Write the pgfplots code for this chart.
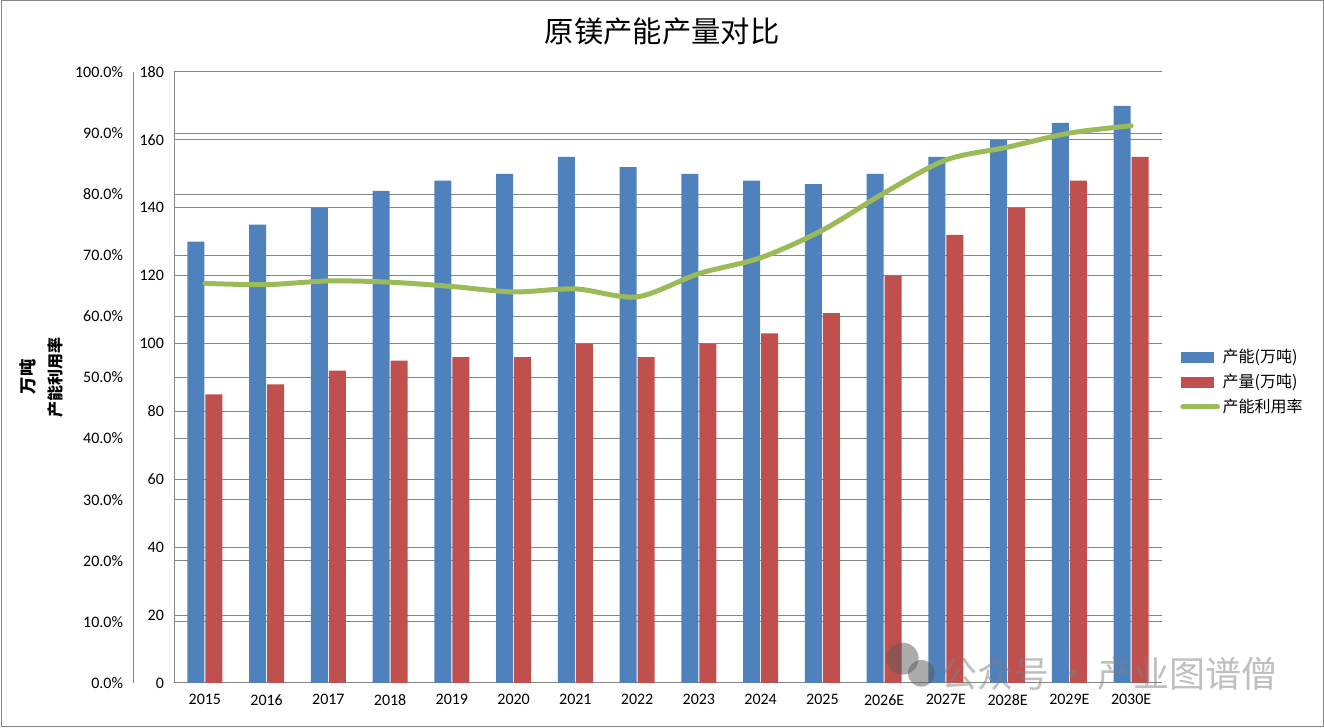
\documentclass[border=0pt]{standalone}
\usepackage{pgfplots}
\pgfplotsset{compat=1.18}
\usepackage{pgfplotstable}
\usepackage{fontspec}
\setmainfont{Carlito}
\newfontfamily\cjk{Noto Sans CJK SC}
\definecolor{capblue}{HTML}{4F81BD}
\definecolor{prodred}{HTML}{C0504D}
\definecolor{utilgreen}{HTML}{9BBB59}
\definecolor{gridgray}{HTML}{868686}

\pgfplotstableread{
x cap prod
0 130 85
1 135 88
2 140 92
3 145 95
4 148 96
5 150 96
6 155 100
7 152 96
8 150 100
9 148 103
10 147 109
11 150 120
12 155 132
13 160 140
14 165 148
15 170 155
}\bardata

\pgfplotstableread{
x util
0 65.4
1 65.2
2 65.8
3 65.6
4 64.9
5 64.0
6 64.5
7 63.2
8 67.0
9 69.6
10 74.1
11 80.2
12 85.6
13 87.7
14 90.0
15 91.2
}\utildata

\begin{document}
\begin{tikzpicture}[x=1pt,y=1pt]
\path[use as bounding box] (0,0) rectangle (993,546);
\draw[gridgray, line width=0.75pt] (0.75,0.75) rectangle (992.25,545.25);

\begin{axis}[
  at={(130.5pt,33.75pt)}, anchor=south west,
  scale only axis, width=741pt, height=458.25pt,
  xmin=-0.5, xmax=15.5, ymin=0, ymax=180,
  axis x line*=bottom, axis y line*=left,
  axis line style={gridgray, line width=0.75pt},
  major tick length=0pt,
  xtick={0,...,15},
  xticklabels={2015,2016,2017,2018,2019,2020,2021,2022,2023,2024,2025,2026E,2027E,2028E,2029E,2030E},
  x tick label style={font=\fontsize{12}{14}\selectfont, yshift=-5pt},
  ytick={0,20,...,180},
  y tick label style={font=\fontsize{12}{14}\selectfont, xshift=-4pt},
  /pgf/number format/assume math mode=true,
  extra y ticks={18,36,54,72,90,108,126,144,162},
  extra y tick labels={},
  extra y tick style={grid=major, major tick length=0pt},
  ymajorgrids,
  grid style={gridgray, line width=0.75pt},
  ybar=0.75pt, bar width=12.75pt,
  clip=false,
]
\addplot[fill=capblue, draw=none] table[x=x, y=cap] {\bardata};
\addplot[fill=prodred, draw=none] table[x=x, y=prod] {\bardata};
\end{axis}

\begin{axis}[
  at={(99.75pt,33.75pt)}, anchor=south west,
  scale only axis, width=771.75pt, height=458.25pt,
  xmin=-1.164, xmax=15.5, ymin=0, ymax=100,
  hide x axis,
  axis y line*=left,
  axis line style={gridgray, line width=0.75pt},
  major tick length=0pt,
  ytick={0,10,...,100},
  yticklabels={0.0\%,10.0\%,20.0\%,30.0\%,40.0\%,50.0\%,60.0\%,70.0\%,80.0\%,90.0\%,100.0\%},
  y tick label style={font=\fontsize{12}{14}\selectfont, xshift=-4pt},
  clip=false,
  legend style={at={(1.0175,0.4926)}, anchor=west, draw=none, fill=none,
    font=\cjk\fontsize{12}{14}\selectfont, row sep=3pt, inner sep=0pt,
    /tikz/every even column/.append style={column sep=5pt}},
  legend cell align=left,
]
\addlegendimage{legend image code/.code={\fill[capblue] (0pt,-3.75pt) rectangle (24pt,3.75pt);}}
\addlegendentry{产能(万吨)}
\addlegendimage{legend image code/.code={\fill[prodred] (0pt,-3.75pt) rectangle (24pt,3.75pt);}}
\addlegendentry{产量(万吨)}
\addplot[utilgreen, line width=3.75pt, smooth, line cap=round,
  legend image code/.code={\draw[utilgreen, line width=3.75pt, line cap=round] (1pt,0pt) -- (27pt,0pt);}]
  table[x=x, y=util] {\utildata};
\addlegendentry{产能利用率}
\end{axis}

\node[font=\cjk\fontsize{22}{26}\selectfont] at (496.5,522.75) {原镁产能产量对比};
\node[font=\cjk\bfseries\fontsize{13}{15}\selectfont, rotate=90] at (21,263.25) {万吨};
\node[font=\cjk\bfseries\fontsize{12}{14}\selectfont, rotate=90] at (41.25,262.5) {产能利用率};

% watermark
\begin{scope}[opacity=0.5]
\fill[gray!70!black] (677,52) circle (12);
\fill[gray!70!black] (691,41) circle (10);
\node[font=\cjk\fontsize{27}{30}\selectfont, text=gray, anchor=west, inner sep=0pt] at (706,40.5) {公众号\,·\,产业图谱僧};
\end{scope}
\end{tikzpicture}
\end{document}
